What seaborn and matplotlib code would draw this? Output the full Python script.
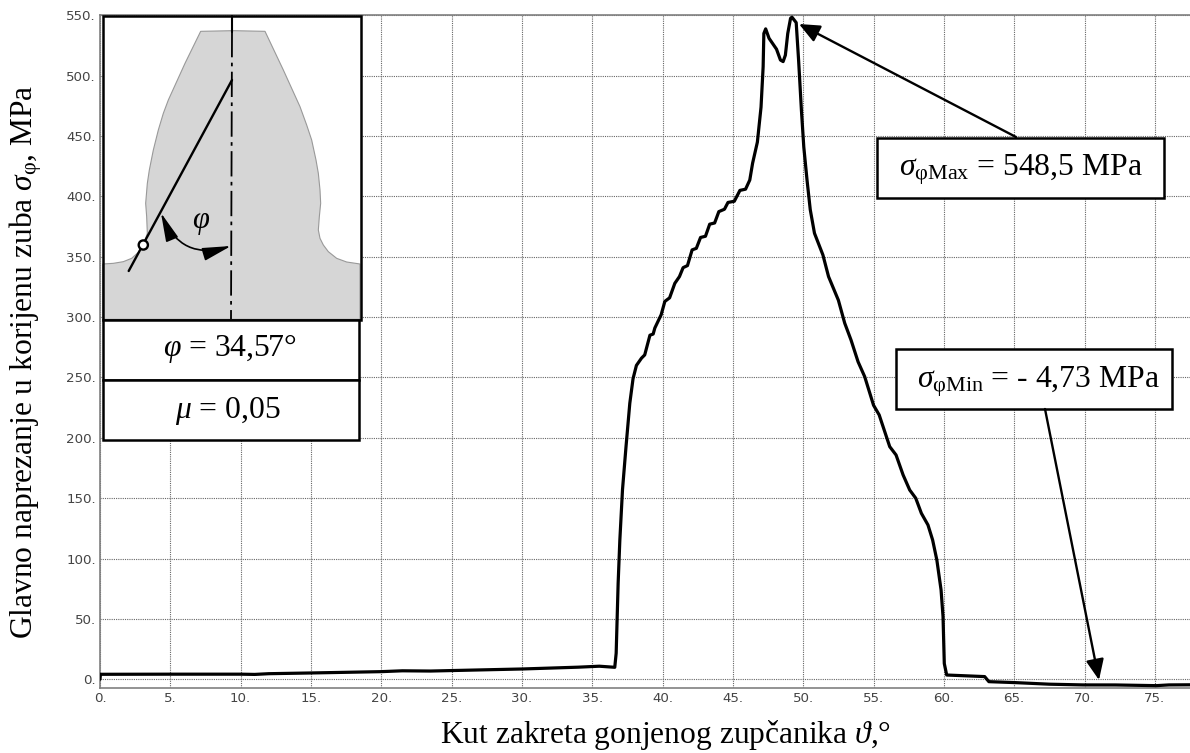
import matplotlib
matplotlib.use('Agg')
import matplotlib.pyplot as plt
import seaborn as sns
from matplotlib.patches import Polygon, Rectangle, Circle, FancyArrowPatch

# kut zakreta i naprezanje, ocitano sa slike
kut = [0, 0.03, 5, 10, 11, 12, 15, 20, 21.5, 23.5, 25, 30, 34, 35.5, 36.6, 36.7, 36.84, 36.96, 37.15, 37.4, 37.67,
       37.9, 38.14, 38.5, 38.73, 39.1, 39.33, 39.45, 39.9, 40.16, 40.5, 40.87, 41.2, 41.46, 41.77, 42.1, 42.4,
       42.7, 43.05, 43.35, 43.7, 44.0, 44.4, 44.65, 45.1, 45.5, 45.9, 46.2, 46.4, 46.74, 47.0, 47.15, 47.2,
       47.33, 47.57, 48.1, 48.38, 48.57, 48.73, 48.9, 49.1, 49.2, 49.5, 49.67, 49.87, 50.04, 50.27, 50.5, 50.8,
       51.17, 51.4, 51.8, 52.5, 52.95, 53.4, 53.9, 54.37, 54.7, 55.0, 55.4, 56.15, 56.6, 57.1, 57.57, 58.0,
       58.4, 58.87, 59.2, 59.5, 59.8, 59.94, 60.03, 60.2, 62.9, 63.2, 65.1, 67.5, 69.9, 72.2, 75.1, 76, 77.5]
naprezanje = [0, 4.1, 4.2, 4.2, 4, 4.6, 5.2, 6.3, 7, 6.8, 7.2, 8.5, 10, 10.8, 9.9, 21.6, 79.5, 115, 157, 192.7, 228.7,
              249, 260, 266, 268.7, 285, 286, 291, 302, 313, 316, 328, 333.6, 341, 342.7, 355.7, 357,
              366, 367, 377, 378, 387.4, 389.4, 395, 396, 405, 406, 413.6, 427.5, 445, 474, 507.5, 535,
              538.8, 531, 522, 513, 511.7, 517, 535, 547.6, 548.5, 544, 513, 471.7, 441, 413.6, 389, 369.5,
              358.4, 351.5, 333.6, 314, 295, 281, 263, 250.7, 238.3, 227, 219, 192.7, 185.8, 169.3, 156.8, 150,
              137.5, 127.8, 115.4, 98.8, 74, 52, 13, 3.5, 2.2, -2, -2.8, -4.1, -4.7, -4.73, -5.3, -4.7, -4.6]

x_ticks = list(range(0, 80, 5))
y_ticks = list(range(0, 600, 50))

# obris zuba, ocitan na uvecanom isjecku (3x, pomak 90 px)
zub_zx = [38, 70, 100, 125, 145, 160, 172, 170, 167, 172, 178, 190, 205, 220, 235, 285, 332, 430, 525, 580, 630, 650,
          665, 678, 685, 690, 692, 688, 685, 690, 700, 715, 740, 770, 810, 810, 38]
zub_zy = [792, 790, 785, 775, 757, 735, 700, 650, 610, 550, 510, 450, 390, 340, 300, 190, 94, 92, 94, 210, 320, 375,
          420, 480, 520, 570, 610, 650, 690, 715, 735, 755, 775, 786, 792, 958, 958]
zub_x = [z / 3 + 90 for z in zub_zx]
zub_y = [z / 3 for z in zub_zy]

sns.set_style('whitegrid')
plt.rcParams['font.family'] = ['Liberation Serif', 'DejaVu Serif']
plt.rcParams['text.color'] = 'black'
plt.rcParams['mathtext.fontset'] = 'custom'
plt.rcParams['mathtext.rm'] = 'Liberation Serif'
plt.rcParams['mathtext.it'] = 'Liberation Serif:italic'

fig = plt.figure(figsize=(11.9, 7.53), dpi=100)
ax = fig.add_axes([100 / 1190, (753 - 688.3) / 753, 1090 / 1190, (688.3 - 15) / 753])

sns.lineplot(x=kut, y=naprezanje, color='black', linewidth=2.3, estimator=None, sort=False, ax=ax, zorder=3)

ax.set_xlim(0, 77.5)
ax.set_ylim(-7.5, 550.3)
ax.set_xticks(x_ticks)
ax.set_yticks(y_ticks)
ax.set_xticklabels([f'{t}.' for t in x_ticks], family='DejaVu Sans', fontsize=9.6, color='#444444')
ax.set_yticklabels([f'{t}.' for t in y_ticks], family='DejaVu Sans', fontsize=9.6, color='#444444')
ax.tick_params(axis='both', length=0, pad=3)
ax.grid(True, color='#666666', linestyle=(0, (1, 1)), linewidth=0.8)
for side in ['left', 'bottom', 'top']:
    ax.spines[side].set_color('#808080')
    ax.spines[side].set_linewidth(1.2)
ax.spines['right'].set_visible(False)

# sloj u pikselima za umetak i oznake
px = fig.add_axes([0, 0, 1, 1], zorder=5)
px.set_xlim(0, 1190)
px.set_ylim(753, 0)
px.axis('off')
px.patch.set_alpha(0)

fig.text(666 / 1190, 1 - 735 / 753, r'Kut zakreta gonjenog zupčanika $\vartheta$,°', fontsize=22.7, va='center', ha='center')
fig.text(26 / 1190, 1 - 362 / 753, r'Glavno naprezanje u korijenu zuba $\sigma_{\mathrm{\varphi}}$, MPa', fontsize=22.7,
         rotation=90, va='center', ha='center')

# umetak sa zubom
px.add_patch(Rectangle((102.5, 15.5), 258, 304, fc='white', ec='none', zorder=1))
px.add_patch(Polygon(list(zip(zub_x, zub_y)), closed=True, fc='#d6d6d6', ec='#999999', lw=0.8, zorder=2))
px.add_patch(Rectangle((102.5, 15.5), 258, 304, fc='none', ec='black', lw=1.8, zorder=4))
px.add_patch(Rectangle((102.5, 319.5), 256, 60, fc='white', ec='black', lw=1.8, zorder=4))
px.add_patch(Rectangle((102.5, 379.5), 256, 60.5, fc='white', ec='black', lw=1.8, zorder=4))
px.plot([232, 232], [16, 32], color='black', lw=1.5, zorder=3)
px.plot([232, 231], [32, 319], color='black', lw=1.3, linestyle=(0, (14, 3, 2, 3)), zorder=3)
px.plot([128.7, 232], [271, 80], color='black', lw=1.7, zorder=3)
px.add_patch(Circle((143.3, 245), 4.6, fc='white', ec='black', lw=1.7, zorder=5))
px.add_patch(FancyArrowPatch((161, 213), (231, 246), connectionstyle='arc3,rad=0.45', arrowstyle='<|-|>,head_length=1.1,head_width=0.25',
                             mutation_scale=16, color='black', lw=1.2, shrinkA=0, shrinkB=0, zorder=5))
px.text(201, 222, r'$\varphi$', fontsize=22, ha='center', va='center', zorder=6)
px.text(230, 348, r'$\varphi$ = 34,57°', fontsize=22.8, ha='center', va='center', zorder=6)
px.text(228, 411, r'$\mu$ = 0,05', fontsize=22.8, ha='center', va='center', zorder=6)

# oznake maksimuma i minimuma
px.add_patch(Rectangle((876.5, 137.5), 287, 60, fc='white', ec='black', lw=1.8, zorder=4))
px.text(1021, 170, r'$\sigma_{\mathrm{\varphi Max}}$ = 548,5 MPa', fontsize=22.8, ha='center', va='center', zorder=6)
px.add_patch(Rectangle((896, 349), 276, 60, fc='white', ec='black', lw=1.8, zorder=4))
px.text(1038, 382, r'$\sigma_{\mathrm{\varphi Min}}$ = - 4,73 MPa', fontsize=22.8, ha='center', va='center', zorder=6)
px.add_patch(FancyArrowPatch((1016, 137), (799, 24), arrowstyle='-|>,head_length=0.78,head_width=0.34', mutation_scale=16,
                             color='black', lw=1.7, shrinkA=0, shrinkB=0, zorder=5))
px.add_patch(FancyArrowPatch((1045, 409), (1099, 680), arrowstyle='-|>,head_length=0.78,head_width=0.34', mutation_scale=16,
                             color='black', lw=1.7, shrinkA=0, shrinkB=0, zorder=5))

fig.savefig('out.png', dpi=100)
